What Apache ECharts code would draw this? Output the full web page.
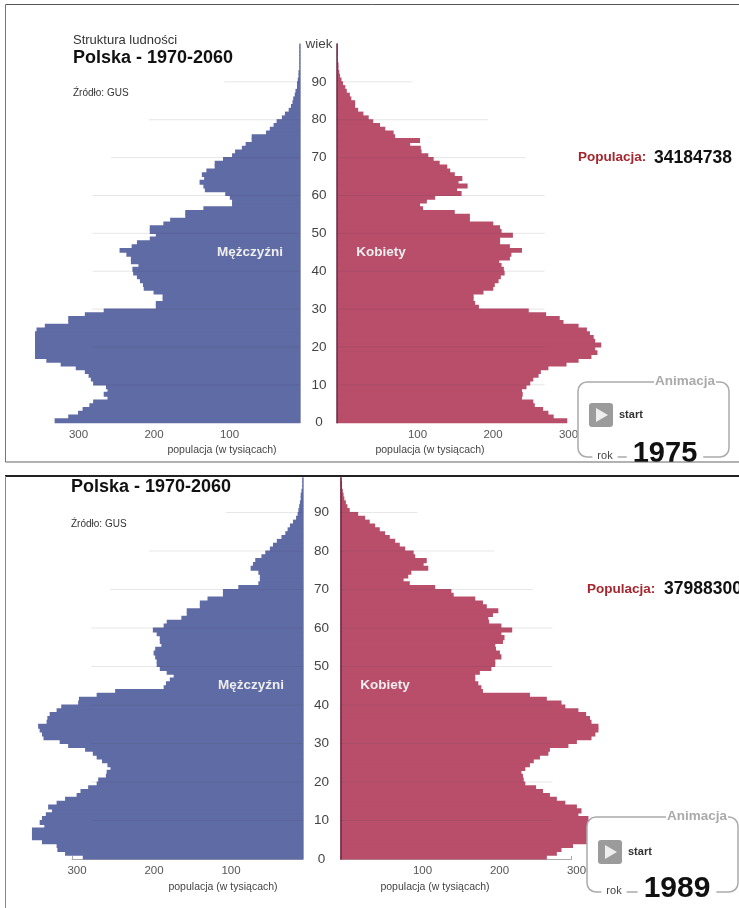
<!DOCTYPE html>
<html><head><meta charset="utf-8">
<style>html,body{margin:0;padding:0;background:#fff}#c{width:739px;height:908px}</style>
<script src="https://cdn.jsdelivr.net/npm/echarts@6/dist/echarts.min.js"></script>
</head><body><div id="c"></div>
<script>
const male1975=[325,307,294,288,279,274,255,260,255,257,274,277,280,285,297,317,336,351,351,351,351,351,351,351,349,338,307,307,285,260,191,191,182,182,194,207,208,212,216,221,222,214,224,224,230,239,223,216,199,191,199,199,181,172,152,152,128,90,90,93,99,126,128,133,127,130,124,113,113,102,90,86,77,72,64,64,45,40,35,31,24,20,15,12,10,9,7,6,4,4,3,2,2,1,1,1,1,1,1,1];
const female1975=[305,287,280,273,262,260,245,246,245,251,256,260,267,270,280,304,320,337,345,342,350,342,340,335,331,320,300,295,277,254,188,183,181,181,194,207,209,214,217,222,221,218,215,229,231,245,229,216,216,233,218,216,207,176,176,156,114,110,119,130,165,159,173,161,166,156,150,146,136,128,121,112,111,97,110,77,75,64,57,48,42,35,28,24,24,19,17,13,11,8,6,4,3,2,2,1,1,1,1,1];
const male1989=[286,309,319,320,339,352,352,352,336,342,339,334,326,331,320,309,294,289,279,268,266,256,255,250,254,261,268,273,283,305,316,337,339,342,344,333,332,329,320,314,292,291,268,244,181,178,173,168,177,186,190,190,192,194,192,184,186,186,190,195,181,177,158,151,151,134,134,124,104,104,84,58,56,56,58,68,65,62,54,49,43,39,34,28,23,20,17,13,9,7,6,5,4,3,3,2,1,1,1];
const female1989=[268,281,287,302,320,348,355,350,340,345,322,309,313,307,292,281,272,263,254,240,238,237,235,240,246,251,259,270,272,296,307,326,331,335,335,326,324,319,309,292,287,268,246,185,183,179,175,175,181,196,201,201,209,207,202,201,211,213,209,223,209,193,192,198,205,190,185,175,147,144,123,90,82,88,92,114,108,112,97,95,84,77,71,64,58,51,45,38,32,23,12,9,7,5,4,3,2,2,1];
const xTicks=[100,200,300];
const gridAges=[90,80,70,60,50,40,30,20,10];
const gridLengths=[100,200,250,275,275,275,275,275,275];

const MALE='#5f6ba5',FEMALE='#b94e6b',FONT='"Liberation Sans",Arial,sans-serif';
const grid=[],xAxis=[],yAxis=[],series=[],graphic=[];

function addPanel(P){
  const h=P.bottom-P.top;
  const xA=(inverse)=>({type:'value',min:0,max:300,interval:100,inverse,
    axisLine:{show:true,lineStyle:{color:'#aaa'}},
    axisTick:{show:true,inside:true,length:3,lineStyle:{color:'#aaa'}},
    splitLine:{show:false},
    axisLabel:{margin:6,fontFamily:FONT,fontSize:11.5,color:'#555',padding:[0,0,0,10],
      formatter:v=>xTicks.includes(v)?String(v):''}});
  const rows=P.male.map((_,i)=>String(i));
  [[P.leftX-300*P.scale,P.leftX,true,P.male,MALE,'#9a9fb5'],
   [P.rightX,P.rightX+300*P.scale,false,P.female,FEMALE,'#6b2a45']].forEach(([a,b,inv,vals,col,axisCol])=>{
    const g=grid.length;
    grid.push({left:a,width:b-a,top:P.top,height:h,containLabel:false});
    xAxis.push(Object.assign(xA(inv),{gridIndex:g}));
    const yCat=yAxis.length;
    yAxis.push({type:'category',gridIndex:g,data:rows,position:inv?'right':'left',z:5,
      axisLine:{show:true,onZero:false,lineStyle:{color:axisCol,width:inv?1:1.5}},
      axisTick:{show:false},axisLabel:{show:false}});
    yAxis.push({type:'value',gridIndex:g,min:0,max:rows.length,show:false});
    series.push({type:'bar',xAxisIndex:g,yAxisIndex:yCat,data:vals,barWidth:'130%',barCategoryGap:0,
      clip:false,silent:true,animation:false,itemStyle:{color:col}});
    const d=[];
    gridAges.forEach((age,i)=>{d.push([gridLengths[i],age],[0,age],['-','-']);});
    series.push({type:'line',xAxisIndex:g,yAxisIndex:yCat+1,data:d,showSymbol:false,silent:true,animation:false,z:3,
      connectNulls:false,lineStyle:{color:'rgba(70,60,80,0.13)',width:1}});
  });
  const g=grid.length, maxAge=P.maxLabelAge;
  grid.push({left:P.ageX,width:1,top:P.bottom-maxAge*P.rowH,height:maxAge*P.rowH});
  xAxis.push({type:'value',gridIndex:g,show:false,min:0,max:1});
  yAxis.push({type:'value',gridIndex:g,min:0,max:maxAge,interval:10,
    axisLine:{show:false},axisTick:{show:false},splitLine:{show:false},
    axisLabel:{margin:0,align:'center',fontFamily:FONT,fontSize:13.5,color:'#444',
      formatter:v=>v===100?'wiek':String(v)}});
}
addPanel({top:422.7-100*3.787,bottom:422.7,rowH:3.787,leftX:300,rightX:337,scale:0.755,ageX:319,maxLabelAge:100,male:male1975,female:female1975});
addPanel({top:859-99*3.85,bottom:859,rowH:3.85,leftX:303,rightX:340.5,scale:0.77,ageX:321.5,maxLabelAge:90,male:male1989,female:female1989});

function txt(x,y,text,size,opt){
  opt=opt||{};
  graphic.push({type:'text',x,y,z:opt.z||100,silent:true,style:{text,fontFamily:FONT,fontSize:size,
    fontWeight:opt.bold?'bold':'normal',fill:opt.fill||'#222',align:opt.align||'left',verticalAlign:'middle',
    backgroundColor:opt.bg,padding:opt.pad}});
}
function animBox(x,y,w,h,year,yearX,rokX,labelX,playX,playY,yearSize){
  graphic.push({type:'rect',z:90,silent:true,shape:{x,y,width:w,height:h,r:9},style:{fill:'#fff',stroke:'#aaa',lineWidth:1.5}});
  txt(labelX,y-1,'Animacja',13.5,{bold:true,fill:'#aaa',align:'center',bg:'#fff',pad:[0,1]});
  graphic.push({type:'rect',z:100,silent:true,shape:{x:playX,y:playY,width:24,height:24,r:3},style:{fill:'#9b9b9b'}});
  graphic.push({type:'polygon',z:101,silent:true,shape:{points:[[playX+7,playY+5],[playX+7,playY+19],[playX+19,playY+12]]},style:{fill:'#eee'}});
  txt(playX+30,playY+12,'start',11,{bold:true,fill:'#333'});
  txt(rokX,y+h-1,'rok',11,{fill:'#444',align:'center',bg:'#fff',pad:[0,5]});
  txt(yearX,y+h-3,year,yearSize,{bold:true,fill:'#111',align:'center',bg:'#fff',pad:[-2,6]});
}
txt(73,40,'Struktura ludności',13,{fill:'#333'});
txt(73,58,'Polska - 1970-2060',18,{bold:true,fill:'#111'});
txt(73,93,'Źródło: GUS',10,{fill:'#333'});
txt(250,252,'Mężczyźni',13.5,{bold:true,fill:'#eee',align:'center'});
txt(381,252,'Kobiety',13.5,{bold:true,fill:'#eee',align:'center'});
txt(578,157,'Populacja:',13.5,{bold:true,fill:'#a5262e'});
txt(654,158,'34184738',17.5,{bold:true,fill:'#111'});
txt(222,450,'populacja (w tysiącach)',10.5,{fill:'#444',align:'center'});
txt(430,450,'populacja (w tysiącach)',10.5,{fill:'#444',align:'center'});
animBox(578,382,151,75,'1975',665,605,685,589,403,29);
txt(71,487,'Polska - 1970-2060',18,{bold:true,fill:'#111'});
txt(71,524,'Źródło: GUS',10,{fill:'#333'});
txt(251,685,'Mężczyźni',13.5,{bold:true,fill:'#eee',align:'center'});
txt(385,685,'Kobiety',13.5,{bold:true,fill:'#eee',align:'center'});
txt(587,589,'Populacja:',13.5,{bold:true,fill:'#a5262e'});
txt(664,589,'37988300',17.5,{bold:true,fill:'#111'});
txt(223,887,'populacja (w tysiącach)',10.5,{fill:'#444',align:'center'});
txt(435,887,'populacja (w tysiącach)',10.5,{fill:'#444',align:'center'});
animBox(587,817,151,75,'1989',677,614,697,598,840,30);
const ln=(x1,y1,x2,y2,c,w)=>graphic.push({type:'line',z:120,silent:true,shape:{x1,y1,x2,y2},style:{stroke:c,lineWidth:w}});
ln(5.5,4.5,739,4.5,'#555',1);ln(5.5,4.5,5.5,462,'#777',1);ln(5.5,462,739,462,'#666',1.2);
ln(5,476,739,476,'#222',2);ln(5.5,476,5.5,908,'#888',1);

const chart=echarts.init(document.getElementById('c'),null,{renderer:'canvas'});
chart.setOption({animation:false,backgroundColor:'#fff',grid,xAxis,yAxis,series,graphic});
</script></body></html>
